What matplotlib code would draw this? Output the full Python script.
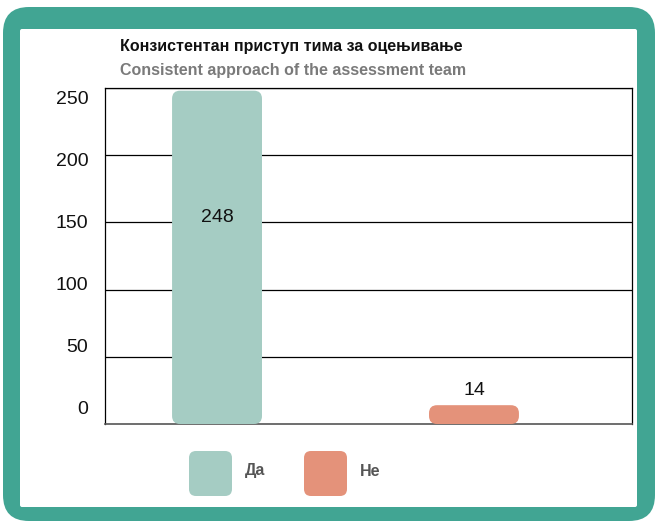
import matplotlib
matplotlib.use("Agg")
import matplotlib.pyplot as plt
from matplotlib.patches import FancyBboxPatch
from matplotlib.transforms import blended_transform_factory

# ---- data ----
categories = ["Да", "Не"]
values = [248, 14]
colors = ["#A5CCC3", "#E4927A"]
yticks = [0, 50, 100, 150, 200, 250]
title = "Конзистентан приступ тима за оцењивање"
subtitle = "Consistent approach of the assessment team"

FONT = ["Liberation Sans", "DejaVu Sans"]
plt.rcParams["font.family"] = FONT

W, H = 655, 525
fig = plt.figure(figsize=(W / 100, H / 100), dpi=100)

# background axes in pixel coordinates
bg = fig.add_axes([0, 0, 1, 1], zorder=0)
bg.set_xlim(0, W)
bg.set_ylim(H, 0)
bg.axis("off")
bg.add_patch(FancyBboxPatch((3, 7), 652, 514, boxstyle="round,pad=0,rounding_size=26",
                            fc="#41A593", ec="none"))
bg.add_patch(FancyBboxPatch((20, 29), 617, 478, boxstyle="round,pad=0,rounding_size=2",
                            fc="white", ec="none"))
bg.text(120, 47, title, fontsize=11.5, fontweight="bold", color="#111111", va="center", ha="left")
bg.text(120, 71, subtitle, fontsize=11.5, fontweight="bold", color="#7A7A7A", va="center", ha="left")

# legend
leg_x = [189, 304]
for lx, cat, col in zip(leg_x, categories, colors):
    bg.add_patch(FancyBboxPatch((lx, 451), 43, 45, boxstyle="round,pad=0,rounding_size=7",
                                fc=col, ec="none"))
    bg.text(lx + 56, 471, cat, fontsize=11.5, fontweight="bold", color="#555555",
            va="center", ha="left")

# main axes
ax = fig.add_axes([105 / W, 1 - 424 / H, (632 - 105) / W, (424 - 88) / H], zorder=1)
ax.set_facecolor("none")
x = list(range(len(categories)))
bars = ax.bar(x, values, width=0.35, color=colors, zorder=3)
ax.set_xlim(-0.436, 1.615)
ax.set_ylim(0, 250)

# rounded bars
fig.canvas.draw()
px_per_x = (ax.transData.transform((1, 0))[0] - ax.transData.transform((0, 0))[0])
px_per_y = (ax.transData.transform((0, 1))[1] - ax.transData.transform((0, 0))[1])
aspect = px_per_x / px_per_y
for b in bars:
    b.set_visible(False)
    r = 8 / px_per_x
    ax.add_patch(FancyBboxPatch((b.get_x(), b.get_y()), b.get_width(), b.get_height(),
                                boxstyle=f"round,pad=0,rounding_size={r}",
                                mutation_aspect=aspect, fc=b.get_facecolor(), ec="none",
                                zorder=3))

# bar labels
for xi, v in zip(x, values):
    if v > 100:
        ax.text(xi, v * 0.62, str(v), ha="center", va="center", fontsize=14, color="#111111", zorder=4)
    else:
        ax.text(xi, v + 11, str(v), ha="center", va="center", fontsize=14, color="#111111", zorder=4)

# grid & spines
for t in yticks[1:]:
    ax.axhline(t, color="black", lw=0.9, zorder=1)
ax.set_xticks([])
ax.set_yticks([])
for s in ["left", "right", "top"]:
    ax.spines[s].set_linewidth(0.9)
    ax.spines[s].set_color("black")
ax.spines["bottom"].set_color("#555555")
ax.spines["bottom"].set_linewidth(1.2)

trans = blended_transform_factory(ax.transAxes, ax.transData)
for t in yticks:
    ax.text(-0.032, t * 0.923 + 10.5, str(t), transform=trans, ha="right", va="center",
            fontsize=14, color="#111111")

fig.savefig("out.png", dpi=100)
